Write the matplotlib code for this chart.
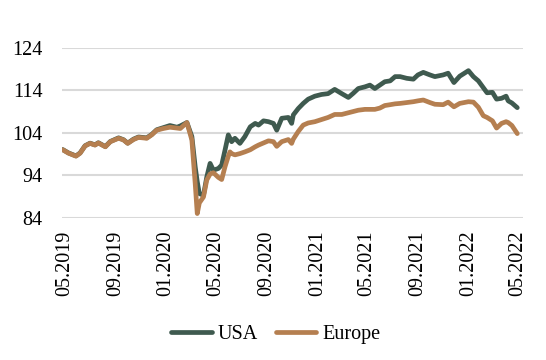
import matplotlib
matplotlib.use("Agg")
import matplotlib.pyplot as plt
import matplotlib.dates as mdates
import pandas as pd

dates = [
    "2019-04-27", "2019-05-11", "2019-05-29", "2019-06-08", "2019-06-20", "2019-07-02",
    "2019-07-14", "2019-07-22", "2019-08-08", "2019-08-20", "2019-09-09", "2019-09-21",
    "2019-10-01", "2019-10-15", "2019-10-27", "2019-11-16", "2019-11-28", "2019-12-10",
    "2019-12-26", "2020-01-11", "2020-01-28", "2020-02-05", "2020-02-21", "2020-03-04",
    "2020-03-12", "2020-03-17", "2020-03-22", "2020-04-01", "2020-04-09", "2020-04-17",
    "2020-04-25", "2020-05-07", "2020-05-15", "2020-05-23", "2020-05-31", "2020-06-04",
    "2020-06-08", "2020-06-16", "2020-06-28", "2020-07-10", "2020-07-23", "2020-08-04",
    "2020-08-12", "2020-08-24", "2020-09-05", "2020-09-17", "2020-09-25", "2020-10-07",
    "2020-10-23", "2020-10-31", "2020-11-04", "2020-11-16", "2020-11-28", "2020-12-10",
    "2020-12-26", "2021-01-11", "2021-01-27", "2021-02-12", "2021-03-01", "2021-03-17",
    "2021-03-29", "2021-04-10", "2021-04-26", "2021-05-08", "2021-05-20", "2021-06-01",
    "2021-06-13", "2021-06-26", "2021-07-08", "2021-07-20", "2021-08-05", "2021-08-21",
    "2021-09-01", "2021-09-14", "2021-09-30", "2021-10-12", "2021-11-01", "2021-11-13",
    "2021-11-27", "2021-12-11", "2022-01-01", "2022-01-13", "2022-01-25", "2022-02-06",
    "2022-02-15", "2022-02-28", "2022-03-10", "2022-03-22", "2022-04-02", "2022-04-07",
    "2022-04-16", "2022-04-29",
]

usa = [
    100.05, 99.25, 98.55, 99.25, 100.95, 101.55, 101.15, 101.65, 100.75, 101.95, 102.8, 102.35,
    101.55, 102.5, 103.0, 102.8, 103.6, 104.7, 105.2, 105.7, 105.3, 105.6, 106.4, 103.1,
    96.0, 92.5, 89.7, 89.3, 93.6, 96.8, 95.2, 95.6, 96.4, 99.9, 103.5, 102.7,
    101.9, 102.7, 101.5, 103.1, 105.4, 106.2, 105.8, 106.8, 106.6, 106.2, 104.6, 107.4,
    107.6, 106.2, 108.2, 109.7, 110.9, 111.9, 112.6, 113.0, 113.2, 114.2, 113.2, 112.3,
    113.3, 114.4, 114.8, 115.2, 114.4, 115.2, 116.0, 116.2, 117.2, 117.2, 116.8, 116.6,
    117.6, 118.2, 117.6, 117.2, 117.6, 118.0, 115.8, 117.3, 118.6, 117.2, 116.2, 114.6,
    113.4, 113.5, 111.9, 112.1, 112.6, 111.5, 111.0, 109.9,
]

europe = [
    100.0, 99.2, 98.5, 99.2, 100.9, 101.5, 101.1, 101.6, 100.7, 101.9, 102.7, 102.3,
    101.5, 102.4, 102.9, 102.7, 103.5, 104.6, 105.0, 105.3, 105.1, 105.0, 106.4, 102.3,
    92.1, 85.0, 87.5, 88.9, 92.9, 94.3, 94.6, 93.5, 93.0, 96.0, 98.5, 99.5,
    99.1, 98.8, 99.1, 99.5, 100.0, 100.7, 101.1, 101.6, 102.1, 101.9, 100.8, 101.9,
    102.4, 101.5, 102.5, 104.3, 105.8, 106.3, 106.6, 107.1, 107.6, 108.3, 108.3, 108.7,
    109.0, 109.3, 109.5, 109.5, 109.5, 109.8, 110.4, 110.6, 110.8, 110.9, 111.1, 111.3,
    111.5, 111.7, 111.1, 110.7, 110.6, 111.2, 110.1, 110.9, 111.3, 111.2, 110.0, 108.0,
    107.6, 106.8, 105.1, 106.2, 106.6, 106.4, 105.7, 103.8,
]

series_names = ["USA", "Europe"]
series_colors = ["#3f5a4f", "#b57f50"]
y_ticks = [84, 94, 104, 114, 124]
x_tick_dates = ["2019-05-01", "2019-09-01", "2020-01-01", "2020-05-01", "2020-09-01",
                "2021-01-01", "2021-05-01", "2021-09-01", "2022-01-01", "2022-05-01"]

plt.rcParams["font.family"] = ["Liberation Serif", "DejaVu Serif"]

fig = plt.figure(figsize=(5.46, 3.60), dpi=100)
ax = fig.add_axes([0.1141, 0.395, 0.8439, 0.4725])

d = pd.to_datetime(dates)
ax.plot(d, usa, color=series_colors[0], lw=3.4, label=series_names[0],
        solid_capstyle="round", solid_joinstyle="round", zorder=3)
ax.plot(d, europe, color=series_colors[1], lw=3.4, label=series_names[1],
        solid_capstyle="round", solid_joinstyle="round", zorder=4)

ax.set_ylim(84, 124)
ax.set_yticks(y_ticks)
ax.set_xlim(pd.Timestamp("2019-04-26"), pd.Timestamp("2022-05-13"))
ax.set_xticks(pd.to_datetime(x_tick_dates))
ax.xaxis.set_major_formatter(mdates.DateFormatter("%m.%Y"))
plt.setp(ax.get_xticklabels(), rotation=90)

ax.grid(axis="y", color="#d9d9d9", lw=1.5, zorder=0)
ax.grid(axis="x", visible=False)
for s in ax.spines.values():
    s.set_visible(False)
ax.tick_params(axis="both", length=0, labelsize=14.5, colors="black")
ax.tick_params(axis="y", pad=14)
ax.tick_params(axis="x", pad=9)

ax.legend(loc="center", bbox_to_anchor=(276 / 546, 1 - 334 / 360),
          bbox_transform=fig.transFigure, ncol=2, frameon=False, fontsize=14.5,
          handlelength=2.0, handletextpad=0.3, columnspacing=0.9)

fig.savefig("out.png", dpi=100)
